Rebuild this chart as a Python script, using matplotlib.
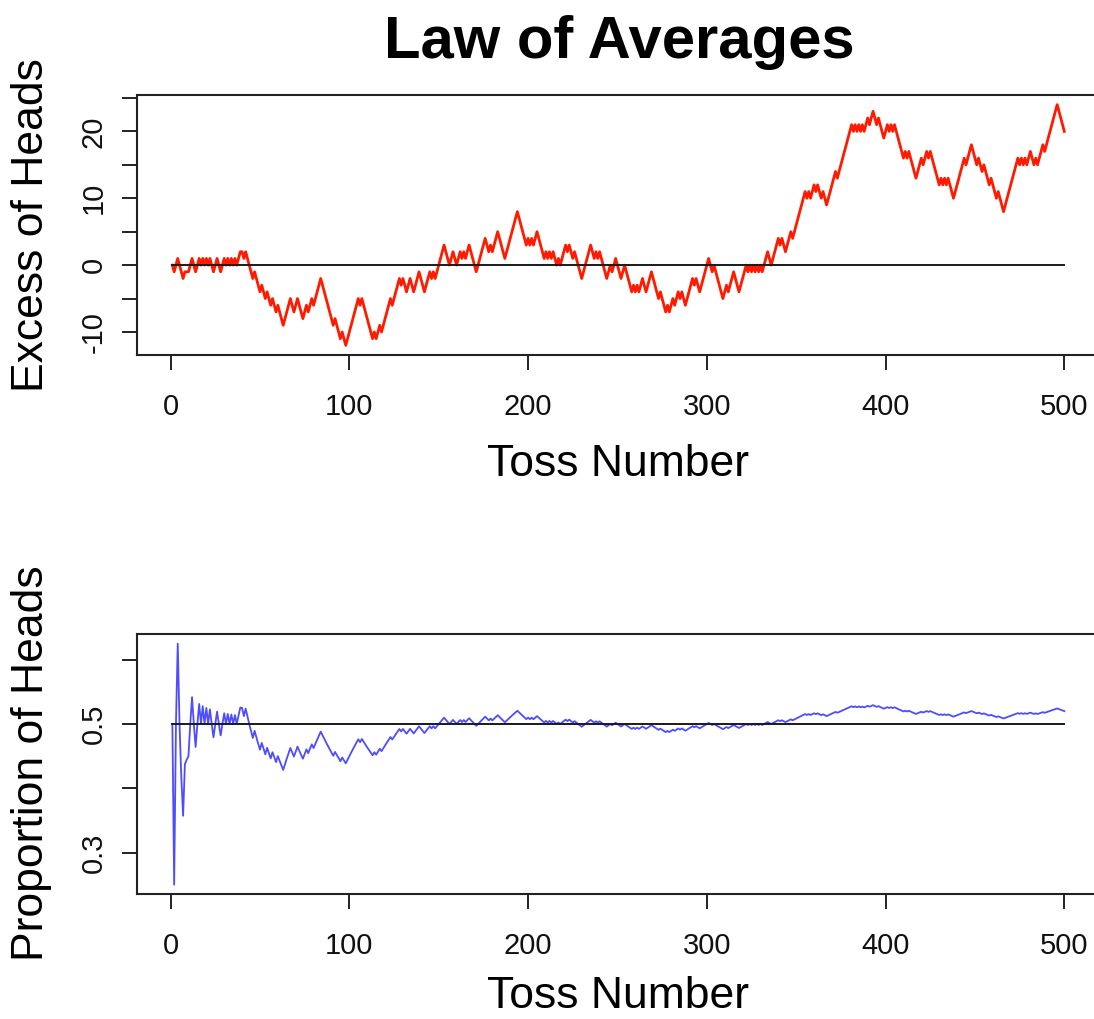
import numpy as np
import matplotlib
matplotlib.use("Agg")
import matplotlib.pyplot as plt

plt.rcParams['font.family'] = ['Liberation Sans', 'DejaVu Sans']

# excess of heads (heads - tails) after each toss
excess = [
    0, -1, 0, 1, 0, -1, -2, -1, -1, -1,
    0, 1, 0, -1, 0, 1, 0, 1, 0, 1,
    0, 1, 0, -1, 0, 1, 0, -1, 0, 1,
    0, 1, 0, 1, 0, 1, 0, 1, 2, 2,
    1, 2, 1, 0, -1, -2, -1, -2, -3, -4,
    -3, -4, -5, -4, -5, -6, -5, -6, -7, -6,
    -7, -8, -9, -8, -7, -6, -5, -6, -7, -6,
    -5, -6, -7, -8, -7, -6, -7, -6, -5, -6,
    -5, -4, -3, -2, -3, -4, -5, -6, -7, -8,
    -9, -8, -9, -10, -11, -10, -11, -12, -11, -10,
    -9, -8, -7, -6, -5, -6, -5, -6, -7, -8,
    -9, -10, -11, -10, -11, -10, -9, -10, -9, -8,
    -7, -6, -5, -6, -5, -4, -3, -2, -3, -2,
    -3, -4, -3, -2, -3, -4, -3, -2, -1, -2,
    -3, -4, -3, -2, -1, -2, -1, -2, -1, 0,
    1, 2, 3, 2, 1, 0, 1, 2, 1, 0,
    1, 2, 1, 2, 1, 2, 3, 2, 1, 0,
    -1, 0, 1, 2, 3, 4, 3, 2, 3, 2,
    3, 4, 5, 4, 3, 2, 1, 2, 3, 4,
    5, 6, 7, 8, 7, 6, 5, 4, 3, 4,
    3, 4, 3, 4, 5, 4, 3, 2, 1, 2,
    1, 2, 1, 2, 1, 0, 1, 0, 1, 2,
    3, 2, 3, 2, 1, 2, 1, 0, -1, -2,
    -1, 0, 1, 2, 3, 2, 1, 2, 1, 2,
    1, 0, -1, -2, -1, 0, -1, 0, 1, 0,
    -1, -2, -1, 0, -1, -2, -3, -4, -3, -4,
    -3, -4, -3, -2, -3, -4, -3, -2, -1, -2,
    -3, -4, -5, -4, -5, -6, -7, -6, -7, -6,
    -5, -6, -5, -4, -5, -4, -5, -6, -5, -4,
    -3, -2, -3, -2, -3, -4, -3, -2, -1, 0,
    1, 0, -1, 0, -1, -2, -3, -4, -5, -4,
    -3, -4, -3, -2, -1, -2, -3, -4, -3, -2,
    -1, 0, -1, 0, -1, 0, -1, 0, -1, 0,
    -1, 0, 1, 2, 1, 0, 1, 2, 3, 4,
    3, 4, 3, 2, 3, 4, 5, 4, 5, 6,
    7, 8, 9, 10, 11, 10, 11, 10, 11, 12,
    11, 12, 11, 10, 11, 10, 9, 10, 11, 12,
    13, 14, 13, 14, 15, 16, 17, 18, 19, 20,
    21, 20, 21, 20, 21, 20, 21, 20, 21, 22,
    21, 22, 23, 22, 21, 22, 21, 20, 19, 20,
    21, 20, 21, 20, 21, 20, 19, 18, 17, 16,
    17, 16, 17, 16, 15, 14, 13, 14, 15, 16,
    15, 16, 17, 16, 17, 16, 15, 14, 13, 12,
    13, 12, 13, 12, 13, 12, 11, 10, 11, 12,
    13, 14, 15, 16, 15, 16, 17, 18, 17, 16,
    15, 16, 15, 14, 15, 14, 13, 12, 13, 12,
    11, 10, 11, 10, 9, 8, 9, 10, 11, 12,
    13, 14, 15, 16, 15, 16, 15, 16, 15, 16,
    17, 16, 15, 16, 15, 16, 17, 18, 17, 18,
    19, 20, 21, 22, 23, 24, 23, 22, 21, 20,
]

x_ticks = [0, 100, 200, 300, 400, 500]
top_yticks = [-10, -5, 0, 5, 10, 15, 20, 25]
top_ylabels = ['-10', '', '0', '', '10', '', '20', '']
bot_yticks = [0.3, 0.4, 0.5, 0.6]
bot_ylabels = ['0.3', '', '0.5', '']

toss = np.arange(1, len(excess) + 1)
excess = np.array(excess)
proportion = 0.5 + excess / (2 * toss)

W, H = 1094, 1019
fig = plt.figure(figsize=(W / 100, H / 100), dpi=100)

def px(x, y):
    return x / W, 1 - y / H

def rpad(lo, hi):
    d = 0.04 * (hi - lo)
    return lo - d, hi + d

left = 136.7 / W
width = (1100 - 136.7) / W
ax1 = fig.add_axes([left, 1 - 355 / H, width, 260 / H])
ax2 = fig.add_axes([left, 1 - 894.3 / H, width, 260.3 / H])

ax1.plot(toss, excess, color='#ff1a00', linewidth=2.0)
ax1.plot([1, len(toss)], [0, 0], color='#1a1a1a', linewidth=1.4)
ax1.set_ylim(*rpad(excess.min(), excess.max()))
ax1.set_yticks(top_yticks)
ax1.set_yticklabels(top_ylabels)

ax2.plot(toss, proportion, color='#4d4dff', linewidth=1.3)
ax2.plot([1, len(toss)], [0.5, 0.5], color='#1a1a1a', linewidth=1.4)
ax2.set_ylim(*rpad(proportion.min(), proportion.max()))
ax2.set_yticks(bot_yticks)
ax2.set_yticklabels(bot_ylabels)

for ax in (ax1, ax2):
    ax.set_xlim(*rpad(1, len(toss)))
    ax.set_xticks(x_ticks)
    for s in ax.spines.values():
        s.set_linewidth(1.5)
        s.set_color('#222222')
    ax.tick_params(axis='both', length=10.8, width=1.4, color='#222222',
                   labelsize=21, labelcolor='#111111')
    ax.tick_params(axis='x', pad=16.5)
    ax.tick_params(axis='y', pad=10, labelrotation=90)
    for lab in ax.get_yticklabels():
        lab.set_va('center')

fig.text(*px(619, 58), 'Law of Averages', fontsize=43, fontweight='bold',
         ha='center', va='baseline')
fig.text(*px(618, 476), 'Toss Number', fontsize=32, ha='center', va='baseline')
fig.text(*px(618, 1008), 'Toss Number', fontsize=32, ha='center', va='baseline')
fig.text(*px(43.3, 225), 'Excess of Heads', fontsize=32, rotation=90,
         rotation_mode='anchor', ha='center', va='baseline')
fig.text(*px(43.3, 763), 'Proportion of Heads', fontsize=32, rotation=90,
         rotation_mode='anchor', ha='center', va='baseline')

fig.savefig('out.png', dpi=100, facecolor='white')
